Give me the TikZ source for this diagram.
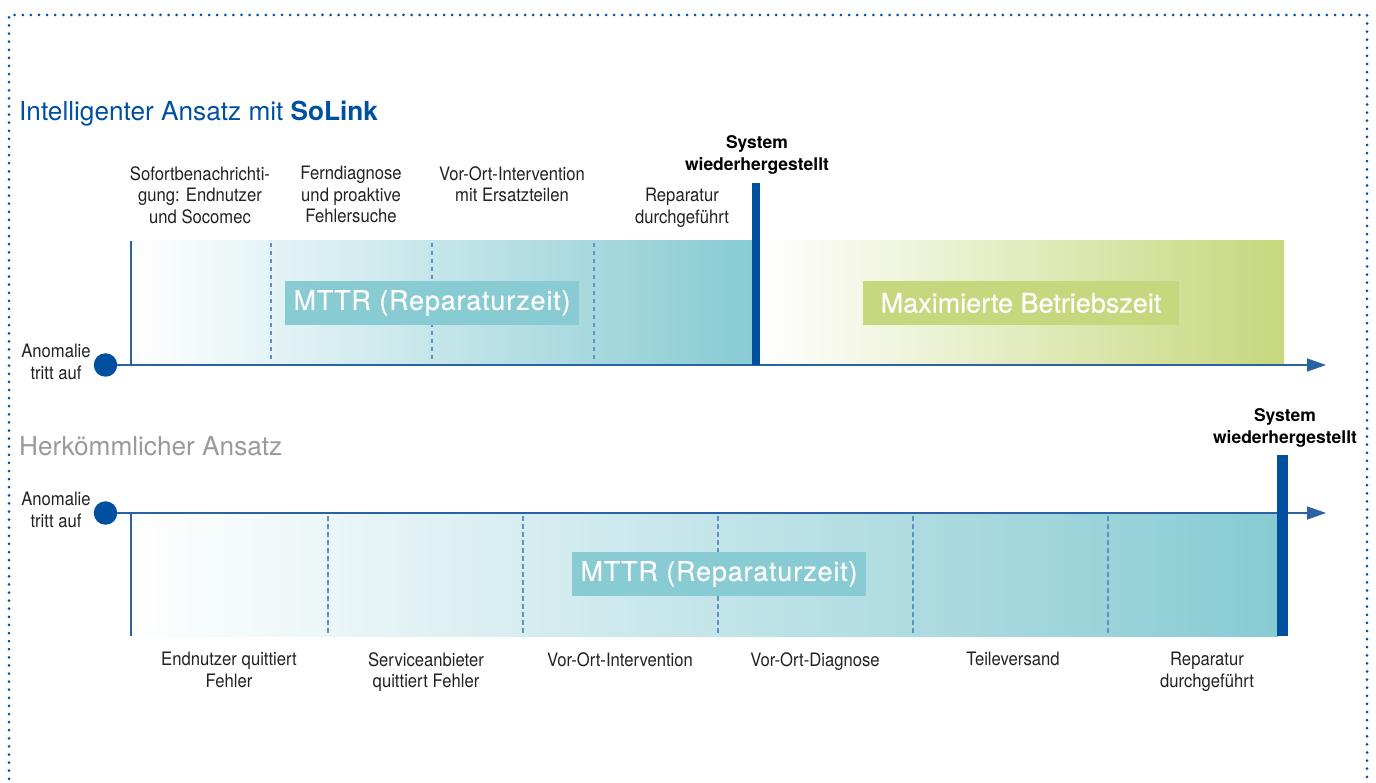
\documentclass[tikz,border=0pt]{standalone}
\usepackage{fontspec}
\setmainfont{TeX Gyre Heros}
\newfontfamily\labfont[FakeStretch=0.9]{TeX Gyre Heros}
\newfontfamily\boxfont[FakeBold=0.35]{TeX Gyre Heros}
\newfontfamily\mttrfont[FakeBold=0.35,LetterSpace=3]{TeX Gyre Heros}
\usetikzlibrary{arrows.meta}
\definecolor{sblue}{HTML}{00509F}
\definecolor{axisblue}{HTML}{2A62A3}
\definecolor{dashblue}{HTML}{5B93C9}
\definecolor{tealc}{HTML}{88CBD3}
\definecolor{greenc}{HTML}{C5D87D}
\definecolor{txtc}{HTML}{222222}
\definecolor{grayt}{HTML}{9A9A9A}
\tikzset{
  lbl/.style={font=\labfont\fontsize{18.5}{21.5}\selectfont, text=txtc, align=center, inner sep=0pt, anchor=north},
  sysl/.style={font=\bfseries\fontsize{17.5}{22}\selectfont, text=black, align=center, inner sep=0pt, anchor=north},
  headl/.style={font=\fontsize{26.2}{30}\selectfont, inner sep=0pt, anchor=base west},
  mbox/.style={fill=tealc, text=white, minimum width=294pt, minimum height=44pt, inner sep=0pt, font=\mttrfont\fontsize{27}{30}\selectfont},
  gbox/.style={fill=greenc, text=white, minimum width=316pt, minimum height=44pt, inner sep=0pt, font=\boxfont\fontsize{27}{30}\selectfont},
  axisl/.style={draw=axisblue, line width=1.5pt},
  dashl/.style={draw=dashblue, line width=1.3pt, dash pattern=on 4.5pt off 3.5pt},
  dotc/.style={circle, fill=sblue, minimum size=23.5pt, inner sep=0pt},
  arr/.style={-{Triangle[length=19pt,width=13pt]}, draw=axisblue, fill=sblue, line width=1.5pt}
}
\begin{document}
\begin{tikzpicture}[x=1pt,y=-1pt]
\useasboundingbox (0,0) rectangle (1376,783);
% dotted frame
\draw[sblue, line width=3pt, dash pattern=on 0pt off 8.1pt, line cap=round] (9,795) -- (9,15) -- (1367,15) -- (1367,795);

% headings
\node[headl, text=sblue] (h1) at (19,121) {Intelligenter Ansatz mit \textbf{SoLink}};
\node[headl, text=grayt] (h2) at (19,455) {Herkömmlicher Ansatz};

% ---------- top chart ----------
\shade[left color=white, right color=tealc] (131,241) rectangle (753,365);
\shade[left color=white, right color=greenc] (760,241) rectangle (1284,365);
\draw[dashl] (271,243) -- (271,362);
\draw[dashl] (432,243) -- (432,362);
\draw[dashl] (594,243) -- (594,362);
\node[mbox] (m1) at (432,303) {MTTR (Reparaturzeit)};
\node[gbox] (g1) at (1021,303) {Maximierte Betriebszeit};
\draw[axisl] (131,241) -- (131,365);
\node[dotc] (c1) at (105.5,365) {};
\coordinate (e1) at (1326,365);
\draw[arr] (c1) -- (e1);
\fill[sblue] (752,183) rectangle (760,365.5);

\node[lbl] (a1) at (56,344) {Anomalie\\tritt auf};
\node[lbl] (t1) at (200,166) {Sofortbenachrichti-\\gung: Endnutzer\\und Socomec};
\node[lbl] (t2) at (351,166) {Ferndiagnose\\und proaktive\\Fehlersuche};
\node[lbl] (t3) at (512,166) {Vor-Ort-Intervention\\mit Ersatzteilen};
\node[lbl] (t4) at (682,188) {Reparatur\\durchgeführt};
\node[sysl] (s1) at (757,135) {System\\wiederhergestellt};

% ---------- bottom chart ----------
\shade[left color=white, right color=tealc] (131,513) rectangle (1278,636);
\draw[dashl] (328,516) -- (328,636);
\draw[dashl] (523,516) -- (523,636);
\draw[dashl] (718,516) -- (718,636);
\draw[dashl] (913,516) -- (913,636);
\draw[dashl] (1108,516) -- (1108,636);
\node[mbox] (m2) at (719,574) {MTTR (Reparaturzeit)};
\draw[axisl] (131,513) -- (131,636);
\node[dotc] (c2) at (105.5,513) {};
\coordinate (e2) at (1326,513);
\draw[arr] (c2) -- (e2);
\fill[sblue] (1277,455) rectangle (1288,636);

\node[lbl] (a2) at (56,492) {Anomalie\\tritt auf};
\node[sysl] (s2) at (1285,408) {System\\wiederhergestellt};
\node[lbl] (b1) at (229,652) {Endnutzer quittiert\\Fehler};
\node[lbl] (b2) at (426,652) {Serviceanbieter\\quittiert Fehler};
\node[lbl] (b3) at (620,652) {Vor-Ort-Intervention};
\node[lbl] (b4) at (815,652) {Vor-Ort-Diagnose};
\node[lbl] (b5) at (1013,652) {Teileversand};
\node[lbl] (b6) at (1207,652) {Reparatur\\durchgeführt};
\end{tikzpicture}
\end{document}
